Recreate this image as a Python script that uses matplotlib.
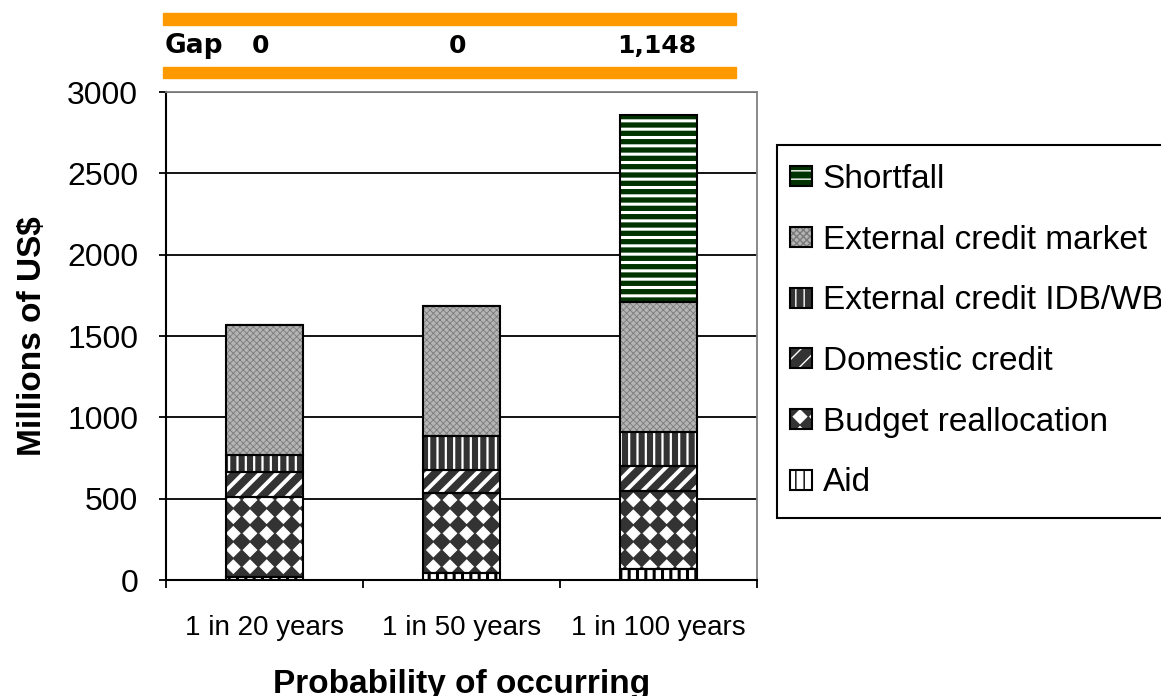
import warnings
import numpy as np
import matplotlib
matplotlib.use('Agg')
import matplotlib.pyplot as plt
import matplotlib.transforms as mtransforms
from matplotlib import hatch as mhatch
from matplotlib.path import Path
from matplotlib.patches import Rectangle
from matplotlib.legend_handler import HandlerTuple

warnings.filterwarnings('ignore')
plt.rcParams['font.family'] = 'Liberation Sans'


# extra hatch 'd': filled diamonds on a square grid
class DiamondGrid(mhatch.HatchPatternBase):
    def __init__(self, hatch, density):
        self.num_rows = int(hatch.count('d') * density)
        self.num_vertices = 5 * (self.num_rows + 1) ** 2 if self.num_rows else 0

    def set_vertices_and_codes(self, vertices, codes):
        n = self.num_rows
        h = 0.40 / n
        diamond = np.array([[0, -h], [h, 0], [0, h], [-h, 0], [0, -h]])
        step = [Path.MOVETO, Path.LINETO, Path.LINETO, Path.LINETO, Path.CLOSEPOLY]
        k = 0
        for i in range(n + 1):
            for j in range(n + 1):
                vertices[k:k + 5] = diamond + [i / n, j / n]
                codes[k:k + 5] = step
                k += 5


mhatch._hatch_types.append(DiamondGrid)

# ── Data (millions of US$) ────────────────────────────────────────────────────
categories = ['1 in 20 years', '1 in 50 years', '1 in 100 years']
aid = [20, 41, 66]
budget = [492, 492, 483]
domestic = [154, 143, 154]
idb_wb = [102, 209, 209]
market = [800, 800, 800]
shortfall = [0, 0, 1148]

series = [
    # name, values, face, hatch, hatch colour, hatch width
    ('Aid', aid, 'white', '||', 'black', 2.2),
    ('Budget reallocation', budget, '#333333', 'd', 'white', 0.8),
    ('Domestic credit', domestic, '#333333', '//', 'white', 2.8),
    ('External credit IDB/WB', idb_wb, '#333333', '||', 'white', 1.6),
    ('External credit market', market, '#b4b4b4', 'xxxxx', '#7a7a7a', 0.6),
    ('Shortfall', shortfall, '#003300', '--', 'white', 2.2),
]

fig = plt.figure(figsize=(11.61, 6.96), dpi=100)
ax = fig.add_axes([166 / 1161, 1 - 580 / 696, 591 / 1161, 488 / 696])

x = [i + 0.5 for i in range(len(categories))]
width = 0.39
bottom = [0] * len(categories)
handles = []
for name, vals, face, hatch, hcol, hlw in series:
    with plt.rc_context({'hatch.linewidth': hlw}):
        bars = ax.bar(x, vals, width, bottom=bottom, color=face, hatch=hatch,
                      edgecolor=hcol, linewidth=0, zorder=3)
    for b in bars:
        if hasattr(b, 'set_hatch_linewidth'):
            b.set_hatch_linewidth(hlw)
    outline = ax.bar(x, vals, width, bottom=bottom, fill=False,
                     edgecolor='black', linewidth=1.5, zorder=4)
    handles.append((bars, outline))
    bottom = [b + v for b, v in zip(bottom, vals)]

# axes styling
ax.set_xlim(0, 3)
ax.set_ylim(0, 3000)
ax.set_yticks(range(0, 3001, 500))
ax.yaxis.grid(True, color='black', linewidth=1.3, zorder=0)
ax.set_axisbelow(True)
ax.set_xticks([0, 1, 2, 3])
ax.set_xticklabels([])
ax.set_xticks(x, minor=True)
ax.set_xticklabels(categories, minor=True, fontsize=20)
ax.tick_params(axis='x', which='major', length=6, width=1.3, direction='out')
ax.tick_params(axis='x', which='minor', length=0, pad=25)
ax.tick_params(axis='y', length=5, width=1.3, labelsize=23, pad=15)
for side in ['left', 'bottom']:
    ax.spines[side].set_linewidth(1.5)
for side in ['top', 'right']:
    ax.spines[side].set_color('#808080')
    ax.spines[side].set_linewidth(1.3)

ax.set_ylabel('Millions of US$', fontsize=24, fontweight='bold')
ax.yaxis.set_label_coords(-0.2, 0.5)
ax.set_xlabel('Probability of occurring', fontsize=24, fontweight='bold',
              va='baseline')
ax.xaxis.set_label_coords(0.5, -0.232)

# legend box runs past the right edge of the figure
fig.patches.append(Rectangle((777 / 1161, 1 - 518 / 696), 500 / 1161,
                             (518 - 145) / 696, transform=fig.transFigure,
                             facecolor='white', edgecolor='black',
                             linewidth=1.5, zorder=1))
leg = fig.legend(handles[::-1], [s[0] for s in series][::-1],
                 handler_map={tuple: HandlerTuple(ndivide=1, pad=0)},
                 loc='upper left', bbox_to_anchor=(790 / 1161, 1 - 164 / 696),
                 fontsize=24, frameon=False,
                 handlelength=0.65, handleheight=0.55, handletextpad=0.33,
                 labelspacing=0.89, borderpad=0, borderaxespad=0)
leg.set_zorder(6)

# ── Gap strip above the chart ────────────────────────────────────────────────
for y0, y1 in [(13, 25), (67, 78)]:
    fig.patches.append(Rectangle((163 / 1161, 1 - y1 / 696), (736 - 163) / 1161,
                                 (y1 - y0) / 696, transform=fig.transFigure,
                                 color='#ff9900', zorder=5))
trans = mtransforms.blended_transform_factory(ax.transData, fig.transFigure)
fig.text(165 / 1161, 1 - 46 / 696, 'Gap', fontsize=19, fontweight='bold',
         family='DejaVu Sans', va='center', ha='left')
for xi, g in zip(x, shortfall):
    ax.text(xi - 0.02 + 0.01 * (g > 0), 1 - 46 / 696, f'{g:,}', transform=trans,
            fontsize=18, fontweight='bold', family='DejaVu Sans',
            va='center', ha='center')

fig.savefig('out.png', dpi=100)
